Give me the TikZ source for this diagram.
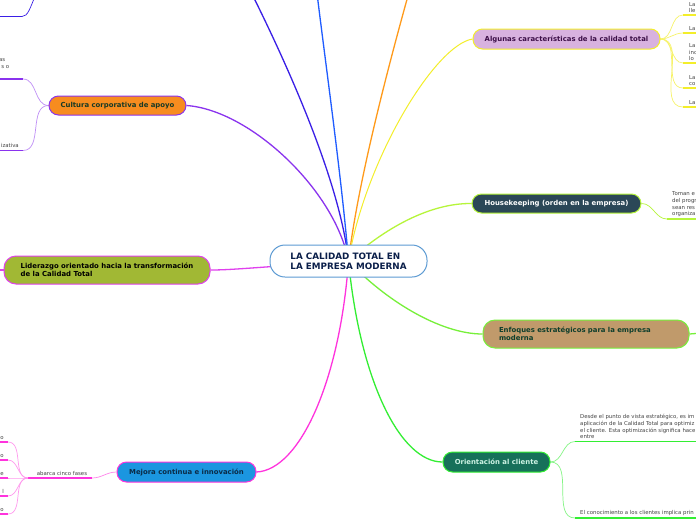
\documentclass[tikz,border=0pt]{standalone}
\usepackage{fontspec}
\setmainfont{DejaVu Sans}
\usetikzlibrary{backgrounds}
\definecolor{indigoL}{HTML}{3A1FE6}
\definecolor{blueL}{HTML}{1F5CFF}
\definecolor{orangeL}{HTML}{FF9A1A}
\definecolor{yellowL}{HTML}{F3EE2A}
\definecolor{purpleL}{HTML}{8A33EE}
\definecolor{magL}{HTML}{E040EE}
\definecolor{pinkL}{HTML}{FF33DD}
\definecolor{limeL}{HTML}{B6F53A}
\definecolor{greenE}{HTML}{77F03A}
\definecolor{greenO}{HTML}{33EE33}
\definecolor{algF}{HTML}{D8B2DF}
\definecolor{hkF}{HTML}{2B4757}
\definecolor{enfF}{HTML}{C09A6B}
\definecolor{oriF}{HTML}{17705A}
\definecolor{mejF}{HTML}{1B96E0}
\definecolor{lidF}{HTML}{A1B834}
\definecolor{culF}{HTML}{F78C1F}
\definecolor{algT}{HTML}{3C0F48}
\definecolor{enfT}{HTML}{0E3E2C}
\definecolor{oriT}{HTML}{CDF3E4}
\definecolor{mejT}{HTML}{0B2C48}
\definecolor{culT}{HTML}{183A26}
\definecolor{cB}{HTML}{5D9BD3}
\definecolor{cT}{HTML}{0B1F4A}
\definecolor{txtG}{HTML}{444444}
\tikzset{
  topic/.style={draw, line width=1pt, rounded corners=9.5pt, inner sep=0pt,
    font=\bfseries\fontsize{6.9}{8}\selectfont},
  small/.style={font=\fontsize{5.4}{6.6}\selectfont, text=txtG, inner sep=0pt, align=left},
  conn/.style={line width=1.3pt},
  sub/.style={line width=0.7pt},
  uline/.style={line width=1.6pt}
}
\begin{document}
\begin{tikzpicture}[x=1pt,y=-1pt]
\useasboundingbox (0,0) rectangle (696,520);
\clip (0,0) rectangle (696,520);
% main nodes
\node[topic, minimum width=157pt, minimum height=32pt, fill=white, draw=cB, rounded corners=15pt,
  font=\bfseries\fontsize{8.8}{10.3}\selectfont, text=cT, align=left] (c) at (348.5,261)
  {LA CALIDAD TOTAL EN\\LA EMPRESA MODERNA};
\node[topic, minimum width=187pt, minimum height=20pt, fill=algF, draw=yellowL, text=algT] (alg) at (566.5,39)
  {Algunas características de la calidad total};
\node[topic, minimum width=169pt, minimum height=19pt, fill=hkF, draw=limeL, text=white] (hk) at (556.5,203.5)
  {Housekeeping (orden en la empresa)};
\node[topic, minimum width=206pt, minimum height=28pt, fill=enfF, draw=greenE, text=enfT, text width=174pt, align=left, rounded corners=12pt] (enf) at (586,334)
  {Enfoques estratégicos para la empresa\\moderna};
\node[topic, minimum width=107pt, minimum height=20pt, fill=oriF, draw=greenO, text=oriT] (ori) at (496.5,462)
  {Orientación al cliente};
\node[topic, minimum width=139pt, minimum height=20pt, fill=mejF, draw=pinkL, text=mejT] (mej) at (186.5,472)
  {Mejora continua e innovación};
\node[topic, minimum width=206pt, minimum height=28pt, fill=lidF, draw=magL, text=black, align=left, rounded corners=12pt] (lid) at (107,270)
  {Liderazgo orientado hacia la transformación\\de la Calidad Total};
\node[topic, minimum width=137pt, minimum height=19pt, fill=culF, draw=purpleL, text=culT] (cul) at (117.5,105.5)
  {Cultura corporativa de apoyo};
% off-frame coordinates
\coordinate (top1) at (250,-10);
\coordinate (top2) at (316,-15);
\coordinate (top3) at (411,-15);
\coordinate (tl1) at (36,-6);
\coordinate (tl2) at (22,16.5);
\coordinate (tl3) at (-5,16.5);
\coordinate (lidL) at (-5,270);
\coordinate (enfR) at (702,333);
% Algunas children
\foreach \i/\y in {1/15,2/33,3/63,4/88,5/107}{
  \coordinate (a\i s) at (683,\y);
  \coordinate (a\i e) at (702,\y);
}
\node[small, anchor=south west] (at1) at (689,13) {La\\lle};
\node[small, anchor=south west] (at2) at (689,31) {La};
\node[small, anchor=south west] (at3) at (689,61) {La\\inc\\lo};
\node[small, anchor=south west] (at4) at (689,86) {La\\co};
\node[small, anchor=south west] (at5) at (689,105) {La};
% Housekeeping child
\coordinate (h1s) at (667,219);
\coordinate (h1e) at (702,219);
\node[small, anchor=south west] (ht1) at (672,217) {Toman e\\del progr\\sean res\\organiza};
% Orientacion children
\coordinate (o1s) at (575,441.5);
\coordinate (o1e) at (702,441.5);
\coordinate (o2s) at (575,518);
\coordinate (o2e) at (702,518);
\node[small, anchor=south west] (ot1) at (580,439) {Desde el punto de vista estratégico, es im\\aplicación de la Calidad Total para optimiz\\el cliente. Esta optimización significa hace\\entre};
\node[small, anchor=south west] (ot2) at (580,515.5) {El conocimiento a los clientes implica prin};
% Mejora children
\coordinate (m0e) at (92,478);
\coordinate (m0s) at (28,478);
\node[small, anchor=south] (mt0) at (62,476) {abarca cinco fases};
\foreach \i/\y in {1/442,2/460,3/478,4/496,5/514}{
  \coordinate (m\i s) at (8,\y);
  \coordinate (m\i e) at (-5,\y);
}
\node[small, anchor=south east] (mt1) at (4,440) {o};
\node[small, anchor=south east] (mt2) at (4,458) {o};
\node[small, anchor=south east] (mt3) at (4,476) {e};
\node[small, anchor=south east] (mt4) at (4,494) {l};
\node[small, anchor=south east] (mt5) at (4,512) {o};
% Cultura children
\coordinate (k1s) at (23,79);
\coordinate (k1e) at (-5,79);
\coordinate (k2s) at (23,150.5);
\coordinate (k2e) at (-5,150.5);
\node[small, anchor=south east] (kt1) at (5.5,62) {as};
\node[small, anchor=south east] (kt2) at (9.5,68.5) {s o};
\node[small, anchor=south east] (kt3) at (19,148) {izativa};
\begin{scope}[on background layer]
\fill[white] (0,0) rectangle (696,520);
% main connectors
\draw[conn, indigoL] (c.center) .. controls (340,180) and (285,60) .. (top1);
\draw[conn, blueL] (c.center) .. controls (342,180) and (325,60) .. (top2);
\draw[conn, orangeL] (c.center) .. controls (358,180) and (390,60) .. (top3);
\draw[line width=1pt, yellowL] (c.center) .. controls (365,160) and (435,45) .. (alg.west);
\draw[conn, purpleL] (c.center) .. controls (335,190) and (250,110) .. (cul.east);
\draw[conn, magL] (c.center) .. controls (250,268) and (230,270) .. (lid.east);
\draw[conn, pinkL] (c.center) .. controls (340,380) and (300,470) .. (mej.east);
\draw[conn, limeL] (c.center) .. controls (385,228) and (430,203) .. (hk.west);
\draw[conn, greenE] (c.center) .. controls (385,300) and (440,334) .. (enf.west);
\draw[conn, greenO] (c.center) .. controls (360,380) and (400,462) .. (ori.west);
\draw[conn, magL] (lid.west) -- (lidL);
\draw[conn, greenE] (enf.east) -- (enfR);
% top-left stub
\draw[sub, indigoL] (tl1) .. controls (30,8) and (28,16.5) .. (tl2);
\draw[uline, indigoL] (tl2) -- (tl3);
% Algunas children
\foreach \i in {1,...,5}{
  \draw[sub, yellowL!70] (alg.east) to[out=0,in=180] (a\i s);
  \draw[uline, yellowL] (a\i s) -- (a\i e);
}
% Housekeeping child
\draw[sub, limeL] (hk.east) to[out=0,in=180] (h1s);
\draw[uline, limeL] (h1s) -- (h1e);
% Orientacion children
\draw[sub, greenO!60] (ori.east) to[out=0,in=180] (o1s);
\draw[uline, greenO] (o1s) -- (o1e);
\draw[sub, greenO!60] (ori.east) to[out=0,in=180] (o2s);
\draw[uline, greenO] (o2s) -- (o2e);
% Mejora children
\draw[sub, pinkL!60] (mej.west) to[out=180,in=0] (m0e);
\draw[uline, pinkL] (m0e) -- (m0s);
\foreach \i in {1,...,5}{
  \draw[sub, pinkL!50] (m0s) to[out=180,in=0] (m\i s);
  \draw[uline, pinkL] (m\i s) -- (m\i e);
}
% Cultura children
\draw[sub, purpleL!55] (cul.west) to[out=180,in=0] (k1s);
\draw[uline, purpleL] (k1s) -- (k1e);
\draw[sub, purpleL!55] (cul.west) to[out=180,in=0] (k2s);
\draw[uline, purpleL] (k2s) -- (k2e);
\end{scope}
\end{tikzpicture}
\end{document}
